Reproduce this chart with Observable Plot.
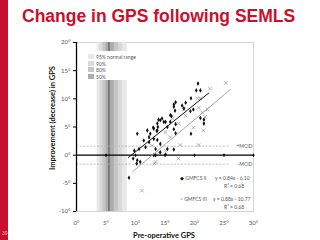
<!DOCTYPE html>
<html><head><meta charset="utf-8">
<script src="https://cdn.jsdelivr.net/npm/d3@7"></script>
<script src="https://cdn.jsdelivr.net/npm/@observablehq/plot@0.6"></script>
<style>
body{margin:0;background:#fff;}
#wrap{position:relative;width:320px;height:240px;overflow:hidden;font-family:Lato,"Open Sans",sans-serif;}
#bar{position:absolute;left:0;top:0;width:8px;height:240px;background:#c8102e;}
#num{position:absolute;left:2px;top:230px;font:5px "Liberation Sans",Arial,sans-serif;color:#f4b6c2;}
#title{position:absolute;left:22px;top:6px;font:bold 17.5px "Liberation Sans",Arial,sans-serif;color:#c8102e;white-space:nowrap;}
#chart{position:absolute;left:0;top:0;}
#blegend{position:absolute;left:86px;top:51px;width:54px;height:29px;background:#fff;}
.brow{position:absolute;left:2px;height:6px;font-size:5px;line-height:6px;color:#555;white-space:nowrap;}
.sw{display:inline-block;width:6px;height:5px;vertical-align:top;margin-right:2px;}
.lt{position:absolute;font-size:5px;line-height:6px;color:#555;white-space:nowrap;}
#ytitle{position:absolute;left:52px;top:118px;transform:translate(-50%,-50%) rotate(-90deg);font-weight:bold;font-size:7.5px;color:#111;white-space:nowrap;}
#xtitle{position:absolute;left:164px;top:235px;transform:translate(-50%,-50%);font-weight:bold;font-size:7.5px;line-height:9px;color:#111;white-space:nowrap;}
</style></head>
<body><div id="wrap">
<div id="chart"></div>
<div id="bar"></div><div id="num">39</div>
<div id="title">Change in GPS following SEMLS</div>
<div id="ytitle">Improvement (decrease) in GPS</div>
<div id="xtitle">Pre-operative GPS</div>
<div id="blegend"></div>
<div id="slegend"></div>
</div>
<script>
// ---- data ----
const gmfcs2 = [[8.9,-4.0],[9.6,-0.6],[10.3,-0.9],[10.2,-1.5],[10.8,-1.2],[9.8,0.8],[10.6,1.1],[11.7,1.4],[11.4,2.6],[10.3,3.8],[12.3,2.3],[12.3,3.2],[12.5,3.8],[13.7,2.7],[14.2,0.5],[13.4,1.1],[15.1,0.1],[13.1,0],[13.4,0],[12.0,4.4],[13.6,4.3],[13.8,5.0],[13.1,4.7],[13.7,5.6],[14.8,5.9],[14.2,6.2],[15.9,7.1],[16.5,8.6],[16.8,9.4],[20.6,12.7],[20.3,11.5],[21.0,11.5],[19.4,10.1],[16.5,9.0],[17.9,8.8],[18.5,9.3],[18.2,8.3],[16.7,7.9],[19.8,8.1],[19.3,7.8],[13.9,6.3],[14.5,6.5],[16.1,6.9],[15.1,5.9],[15.9,5.9],[16.8,5.5],[13.0,4.9],[13.7,4.4],[15.4,5.0],[21.0,6.6],[21.6,6.3],[21.6,5.6],[19.4,3.8],[16.8,3.9],[16.5,4.6],[13.1,2.9],[14.2,2.0],[15.4,1.1],[16.5,1.0]];
const gmfcs3 = [[25.3,12.8],[22.6,11.8],[20.5,10.1],[21.0,10.1],[20.7,8.4],[22.2,8.1],[18.2,8.1],[21.3,7.6],[21.8,6.8],[19.8,4.9],[21.5,4.4],[15.1,4.1],[17.3,5.6],[15.9,3.2],[17.6,1.8],[20.7,1.8],[13.4,-1.2],[17.3,-0.6],[13.2,-1.5],[13.9,0.5],[15.1,0.8],[12.8,1.7],[11.1,-6.3],[16.3,6.5],[18.5,7.0]];
const bandLabels = ["95% normal range","90%","80%","50%"];
const bandLo = [3.5, 4.0, 4.5, 5.0];
const bandHi = [8.6, 7.8, 7.1, 6.4];
const normalMean = 5.5;
const mcid = 1.6;
const seriesNames = ["GMFCS II","GMFCS III"];
const fitText = [["y = 0.84x - 6.10","R² = 0.68"],["y = 0.88x - 10.77","R² = 0.68"]];
const fitSlope = [0.84, 0.88];
const fitIntercept = [-7.8, -11.3];   // as drawn in the picture
const fitFrom = [8.8, 9.5];
const fitTo = [22.4, 26.1];
const xTicks = [0,5,10,15,20,25,30];
const yTicks = [-10,-5,0,5,10,15,20];

// ---- build ----
const bandFills = ["#e8e8e8","#d9d9d9","#c6c6c6","#adadad"];
const bands = bandLabels.map((l,i)=>({label:l, lo:bandLo[i], hi:bandHi[i], fill:bandFills[i]}));
const p2 = gmfcs2.map(([x,y])=>({x,y}));
const p3 = gmfcs3.map(([x,y])=>({x,y}));
const fits = seriesNames.map((s,i)=>[fitFrom[i],fitTo[i]].map(x=>({x, y:fitSlope[i]*x+fitIntercept[i], s})));

const chart = Plot.plot({
  width:320, height:240,
  marginLeft:76, marginRight:67, marginTop:42, marginBottom:29,
  style:{fontFamily:"Lato, 'Open Sans', sans-serif", background:"transparent"},
  x:{domain:[0,30]},
  y:{domain:[-10,20]},
  marks:[
    Plot.frame({stroke:"#d4d4d4"}),
    Plot.rect(bands,{x1:"lo",x2:"hi",fill:"fill"}),
    Plot.ruleX([normalMean],{stroke:"#4a4a4a",strokeWidth:1}),
    Plot.ruleY([mcid,-mcid],{x1:0,x2:26,stroke:"#b0b0b0",strokeWidth:0.8,strokeDasharray:"2,1.5"}),
    Plot.text(["+MCID","-MCID"],{x:30,y:(d,i)=>i===0?mcid:-mcid,text:d=>d,textAnchor:"end",dx:-1,fontSize:5,fill:"#555"}),
    Plot.ruleY([0],{stroke:"#000",strokeWidth:1.3}),
    Plot.dot(xTicks.slice(1),{x:d=>d,y:0,r:1.2,fill:"#000",symbol:"diamond"}),
    Plot.ruleX([0],{stroke:"#000",strokeWidth:1.3}),
    Plot.axisY({ticks:yTicks,tickFormat:d=>d+"°",tickSize:3,tickPadding:3,fontSize:6,color:"#555",label:null,stroke:"#000"}),
    Plot.axisX({ticks:xTicks,tickFormat:d=>d+"°",tickSize:0,tickPadding:9,fontSize:6,color:"#555",label:null}),
    Plot.dot(p3,{x:"x",y:"y",symbol:"times",r:1.8,stroke:"#a0a0a0",strokeWidth:0.8}),
    Plot.dot(p2,{x:"x",y:"y",symbol:"diamond",r:1.4,fill:"#111"}),
    Plot.line(fits[1],{x:"x",y:"y",stroke:"#a8a8a8",strokeWidth:1}),
    Plot.line(fits[0],{x:"x",y:"y",stroke:"#111",strokeWidth:1}),
  ]
});
document.getElementById("chart").appendChild(chart);

// band legend
const bl = document.getElementById("blegend");
bands.forEach((b,i)=>{
  const r = document.createElement("div");
  r.className="brow"; r.style.top=(3+i*6.5)+"px";
  r.innerHTML = `<span class="sw" style="background:${b.fill}"></span>${b.label}`;
  bl.appendChild(r);
});
// series legend
const sl = document.getElementById("slegend");
const rows = [{top:175, mark:"◆", color:"#111"},{top:196, mark:"×", color:"#999"}];
seriesNames.forEach((s,i)=>{
  const a = document.createElement("div"); a.className="lt";
  a.style.left="180px"; a.style.top=rows[i].top+"px";
  a.innerHTML = `<span style="color:${rows[i].color};font-size:5px">${rows[i].mark}</span> ${s}`;
  sl.appendChild(a);
  const b = document.createElement("div"); b.className="lt";
  b.style.left=(i===0?"215px":"213px"); b.style.top=rows[i].top+"px"; b.textContent=fitText[i][0];
  sl.appendChild(b);
  const c = document.createElement("div"); c.className="lt";
  c.style.left="224px"; c.style.top=(rows[i].top+7.5)+"px"; c.textContent=fitText[i][1];
  sl.appendChild(c);
});
</script>
</body></html>
